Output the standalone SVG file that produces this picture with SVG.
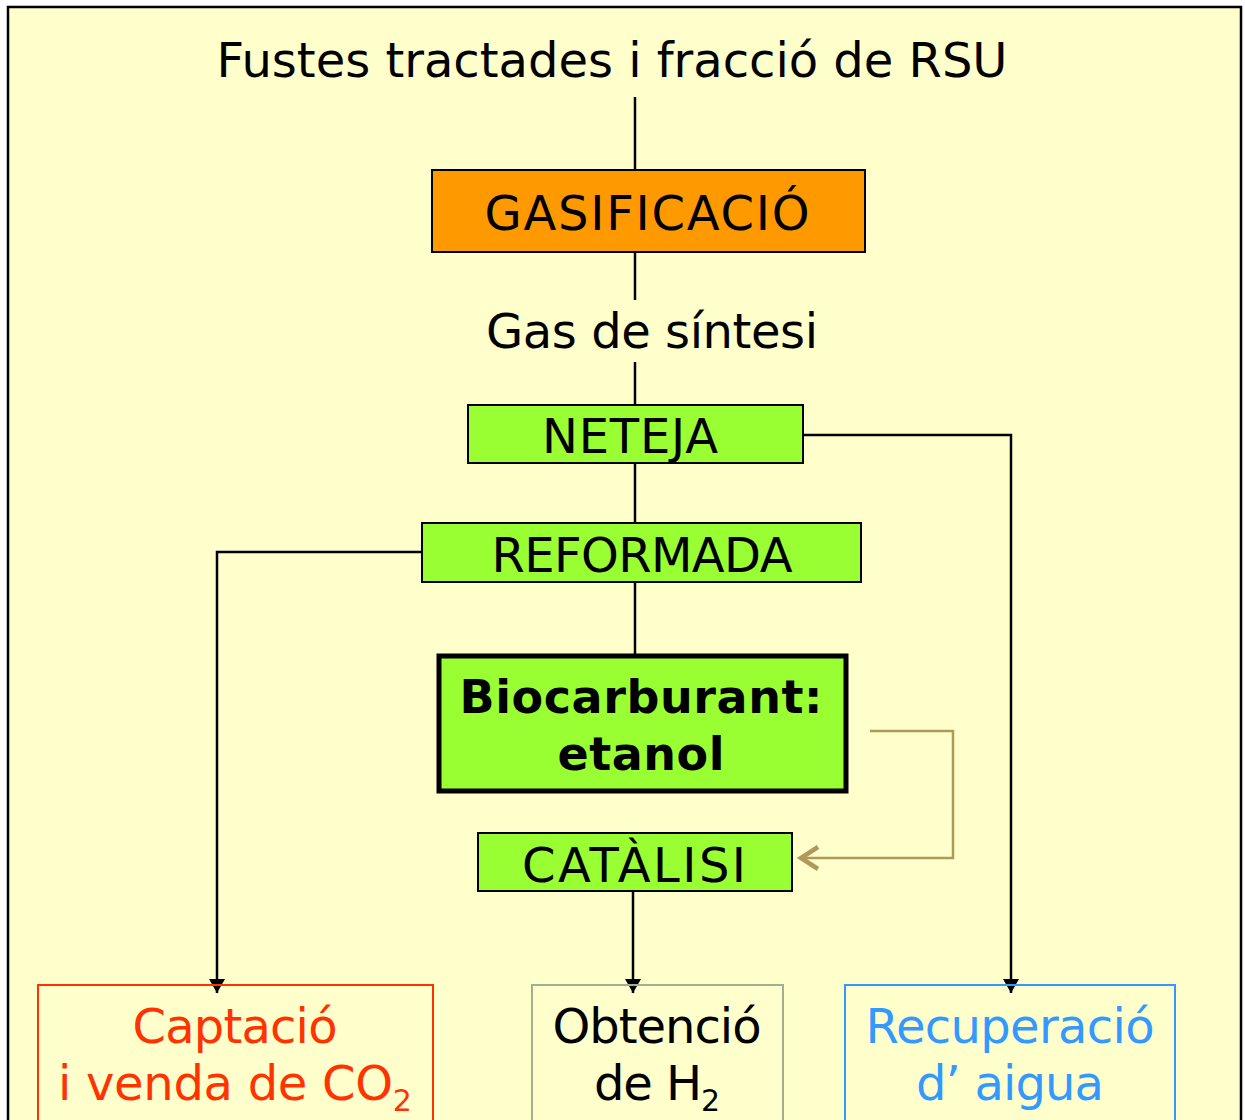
<svg xmlns="http://www.w3.org/2000/svg" width="1245" height="1120" viewBox="0 0 1245 1120">
<defs>
<style>
.t{font-family:"DejaVu Sans","Verdana",sans-serif;font-size:48px;fill:#000;text-anchor:middle}
.b{font-weight:bold;font-size:46px}
.box{stroke:#000;stroke-width:2}
.green{fill:#99FF33}
.c{fill:none;stroke:#000;stroke-width:2.5}
</style>
<marker id="ah" markerUnits="userSpaceOnUse" markerWidth="16" markerHeight="16" refX="14" refY="8" orient="auto" viewBox="0 0 16 16">
<path d="M0,0 L14,8 L0,16 Z" fill="#000"/>
</marker>
</defs>
<rect x="0" y="0" width="1245" height="1120" fill="#fff"/>
<rect x="8" y="7" width="1233" height="1130" fill="#FFFFCC" stroke="#000" stroke-width="2.5"/>

<g id="connectors">
<line class="c" x1="635" y1="97" x2="635" y2="170"/>
<line class="c" x1="635" y1="252" x2="635" y2="300"/>
<line class="c" x1="635" y1="362" x2="635" y2="405"/>
<line class="c" x1="635" y1="463" x2="635" y2="523"/>
<line class="c" x1="635" y1="582" x2="635" y2="655"/>
<polyline class="c" points="803,435 1011,435 1011,993" marker-end="url(#ah)"/>
<polyline class="c" points="422,552 217,552 217,993" marker-end="url(#ah)"/>
<polyline class="c" points="633,891 633,993" marker-end="url(#ah)"/>
<polyline points="870,731 953,731 953,858 802,858" fill="none" stroke="#B0985A" stroke-width="2.5"/>
<polyline points="818,847 801,858 818,869" fill="none" stroke="#B0985A" stroke-width="4.5"/>
</g>

<g id="title">
<text class="t" x="612" y="77" textLength="791">Fustes tractades i fracció de RSU</text>
</g>

<g id="gasificacio">
<rect class="box" x="432" y="170" width="433" height="82" fill="#FF9900"/>
<text class="t" x="647" y="230" textLength="325">GASIFICACIÓ</text>
</g>

<g id="gas-sintesi">
<text class="t" x="652" y="348" textLength="332">Gas de síntesi</text>
</g>

<g id="neteja">
<rect class="box green" x="468" y="405" width="335" height="58"/>
<text class="t" x="630" y="453" textLength="176">NETEJA</text>
</g>

<g id="reformada">
<rect class="box green" x="422" y="523" width="439" height="59"/>
<text class="t" x="642" y="572" textLength="301">REFORMADA</text>
</g>

<g id="biocarburant">
<rect x="439" y="656" width="407" height="135" fill="#99FF33" stroke="#000" stroke-width="5"/>
<text class="t b" x="641" y="713" textLength="363">Biocarburant:</text>
<text class="t b" x="641" y="770" textLength="167">etanol</text>
</g>

<g id="catalisi">
<rect class="box green" x="478" y="833" width="314" height="58"/>
<text class="t" x="634" y="882" textLength="224">CATÀLISI</text>
</g>

<g id="captacio">
<rect x="38" y="985" width="395" height="150" fill="none" stroke="#FF3300" stroke-width="2"/>
<text class="t" x="235" y="1043" style="fill:#FF3300" textLength="205">Captació</text>
<text class="t" x="58" y="1100" style="fill:#FF3300;text-anchor:start"><tspan textLength="335">i venda de CO</tspan><tspan font-size="30" dy="11">2</tspan></text>
</g>

<g id="obtencio">
<rect x="532" y="985" width="251" height="150" fill="none" stroke="#A0B090" stroke-width="2"/>
<text class="t" x="657" y="1043" textLength="209">Obtenció</text>
<text class="t" x="594" y="1100" style="text-anchor:start"><tspan textLength="108">de H</tspan><tspan font-size="30" dy="11">2</tspan></text>
</g>

<g id="recuperacio">
<rect x="845" y="985" width="330" height="150" fill="none" stroke="#3399FF" stroke-width="2"/>
<text class="t" x="1010" y="1043" style="fill:#3399FF" textLength="289">Recuperació</text>
<text class="t" x="1010" y="1100" style="fill:#3399FF" textLength="188">d’ aigua</text>
</g>
</svg>
